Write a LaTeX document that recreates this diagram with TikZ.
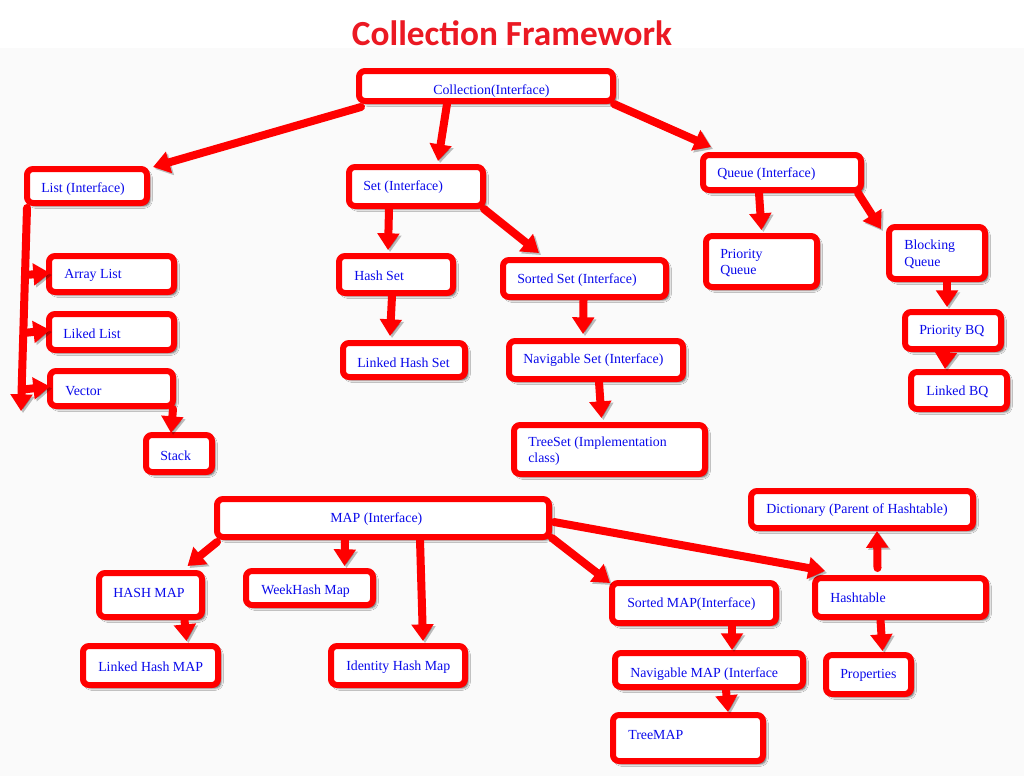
\documentclass[tikz,border=0pt]{standalone}
\usepackage{fontspec}
\setmainfont{Liberation Serif}
\newfontfamily\titlefont{Carlito}
\usetikzlibrary{arrows.meta,calc,shadows.blur}
\definecolor{bred}{RGB}{255,0,0}
\definecolor{tblue}{RGB}{10,10,235}
\definecolor{ttlred}{RGB}{235,25,35}
\definecolor{bgc}{RGB}{250,250,250}
\newcommand\mkbox[5]{\node[box, minimum width={(#4-#2-6)*0.75pt}, minimum height={(#5-#3-6)*0.75pt}] (#1) at ({(#2+#4)/2},{(#3+#5)/2}) {};}
\newcommand\mklbl[4]{\node[lbl] (#1) at (#2,#3) {#4};}
\begin{document}
\begin{tikzpicture}[x=0.75pt,y=-0.75pt,
 box/.style={draw=bred, line width=4.5pt, fill=white, rounded corners=4.5pt, inner sep=0pt,
   blur shadow={shadow xshift=2.2pt, shadow yshift=-2.2pt, shadow blur radius=1.8pt, shadow opacity=70}},
 lbl/.style={text=tblue, font=\fontsize{10.4}{12.6}\selectfont, inner sep=0pt, anchor=west, align=left, yshift=-1.2pt},
 arr/.style={draw=bred, line width=6pt, line cap=round, -{Triangle[width=16pt,length=12.5pt]},
   preaction={draw=black, opacity=0.25, transform canvas={xshift=1.5pt,yshift=-1.5pt}}}]
\useasboundingbox (0,0) rectangle (1024,776);
\fill[white] (0,0) rectangle (1024,776);
\fill[bgc] (0,48) rectangle (1024,776);
\node[text=ttlred, font=\titlefont\bfseries, inner sep=0pt] (title) at (512,33.5) {\resizebox{240pt}{!}{Collection Framework}};
% boxes
\mkbox{coll}{356}{68}{616}{104}
\mkbox{list}{24}{166}{150}{206}
\mkbox{set}{346}{164}{486}{209}
\mkbox{queue}{700}{152}{864}{193}
\mkbox{al}{46}{253}{177}{295}
\mkbox{ll}{46}{311}{177}{353}
\mkbox{vec}{47}{368}{176}{409}
\mkbox{stack}{143}{432}{215}{475}
\mkbox{hs}{336}{253}{456}{296}
\mkbox{lhs}{340}{340}{468}{380}
\mkbox{ss}{500}{257}{669}{300}
\mkbox{ns}{506}{338}{686}{382}
\mkbox{ts}{511}{422}{708}{477}
\mkbox{pq}{703}{233}{820}{290}
\mkbox{bq}{886}{224}{988}{282}
\mkbox{pbq}{902}{309}{1004}{352}
\mkbox{lbq}{908}{369}{1010}{412}
\mkbox{map}{214}{496}{552}{540}
\mkbox{hm}{96}{570}{205}{620}
\mkbox{wh}{243}{568}{376}{608}
\mkbox{lhm}{80}{643}{221}{688}
\mkbox{ihm}{328}{643}{468}{688}
\mkbox{sm}{609}{580}{779}{626}
\mkbox{nm}{612}{650}{806}{690}
\mkbox{tm}{610}{712}{766}{764}
\mkbox{dict}{748}{488}{976}{531}
\mkbox{ht}{812}{575}{989}{620}
\mkbox{props}{823}{652}{914}{697}
% connectors
\coordinate (lend) at (21,411);
\draw[arr] ($(coll.south west)+(5,3)$) -- ($(list.north east)+(3,1)$);
\draw[arr] ($(coll.south)+(-39,0)$) -- ($(set.north)+(22,-3)$);
\draw[arr] ($(coll.south east)+(-2,0)$) -- ($(queue.north west)+(11,-5)$);
\draw[arr] ($(list.south west)+(3,2)$) -- (lend);
\draw[arr] ($(al.west)+(-21,1)$) -- ($(al.west)+(4,-1)$);
\draw[arr] ($(ll.west)+(-22,1)$) -- ($(ll.west)+(4,-2)$);
\draw[arr] ($(vec.west)+(-24,1)$) -- ($(vec.west)+(3,-2)$);
\draw[arr] ($(vec.south east)+(-3,0)$) -- ($(stack.north)+(-8,1)$);
\draw[arr] ($(set.south west)+(43,0)$) -- ($(hs.north)+(-8,-3)$);
\draw[arr] ($(set.south east)+(-2,0)$) -- ($(ss.north west)+(39,-4)$);
\draw[arr] ($(hs.south)+(-4,0)$) -- ($(lhs.north)+(-14,-4)$);
\draw[arr] ($(ss.south)+(-1,0)$) -- ($(ns.north)+(-13,-4)$);
\draw[arr] ($(ns.south)+(3,0)$) -- ($(ts.north)+(-8,-4)$);
\draw[arr] ($(queue.south west)+(59,0)$) -- ($(pq.north)+(0,-3)$);
\draw[arr] ($(queue.south east)+(-6,0)$) -- ($(bq.north west)+(-5,5)$);
\draw[arr] ($(bq.south)+(10,0)$) -- ($(pbq.north)+(-6,-2)$);
\draw[arr] ($(pbq.south)+(-7,0)$) -- ($(lbq.north)+(-14,0)$);
\draw[arr] ($(map.south west)+(3,2)$) -- ($(hm.north)+(37,-4)$);
\draw[arr] ($(map.south)+(-38,0)$) -- ($(wh.north)+(35,-2)$);
\draw[arr] ($(map.south)+(37,0)$) -- ($(ihm.north)+(25,-2)$);
\draw[arr] ($(hm.south)+(34,0)$) -- ($(lhm.north)+(36,-2)$);
\draw[arr] ($(map.south east)+(0,-2)$) -- ($(sm.north west)+(1,3)$);
\draw[arr] ($(map.east)+(2,4)$) -- ($(ht.north west)+(13,-4)$);
\draw[arr] ($(ht.north)+(-23,-7)$) -- ($(dict.south)+(15,0)$);
\draw[arr] ($(sm.south)+(38,0)$) -- ($(nm.north)+(23,0)$);
\draw[arr] ($(nm.south)+(17,0)$) -- ($(tm.north)+(40,0)$);
\draw[arr] ($(ht.south)+(-20,0)$) -- ($(props.north)+(14,-1)$);
% labels
\mklbl{coll-t}{433}{89}{Collection(Interface)}
\mklbl{list-t}{41}{187}{List (Interface)}
\mklbl{set-t}{363}{185}{Set (Interface)}
\mklbl{queue-t}{717}{172}{Queue (Interface)}
\mklbl{al-t}{64}{274}{Array List}
\mklbl{ll-t}{63}{332}{Liked List}
\mklbl{vec-t}{65}{389}{Vector}
\mklbl{stack-t}{160}{454}{Stack}
\mklbl{hs-t}{354}{274}{Hash Set}
\mklbl{lhs-t}{357}{361}{Linked Hash Set}
\mklbl{ss-t}{517}{278}{Sorted Set (Interface)}
\mklbl{ns-t}{523}{359}{Navigable Set (Interface)}
\mklbl{ts-t}{528}{449.5}{TreeSet (Implementation\\class)}
\mklbl{pq-t}{720}{261.5}{Priority\\Queue}
\mklbl{bq-t}{904}{253}{Blocking\\Queue}
\mklbl{pbq-t}{919}{330}{Priority BQ}
\mklbl{lbq-t}{926}{390}{Linked BQ}
\mklbl{map-t}{330}{517}{MAP (Interface)}
\mklbl{hm-t}{113}{591}{HASH MAP}
\mklbl{wh-t}{261}{590}{WeekHash Map}
\mklbl{lhm-t}{98}{665}{Linked Hash MAP}
\mklbl{ihm-t}{346}{666}{Identity Hash Map}
\mklbl{sm-t}{627}{602}{Sorted MAP(Interface)}
\mklbl{nm-t}{630}{672}{Navigable MAP (Interface}
\mklbl{tm-t}{628}{733}{TreeMAP}
\mklbl{dict-t}{766}{509}{Dictionary (Parent of Hashtable)}
\mklbl{ht-t}{830}{596}{Hashtable}
\mklbl{props-t}{840}{674}{Properties}
\end{tikzpicture}
\end{document}
